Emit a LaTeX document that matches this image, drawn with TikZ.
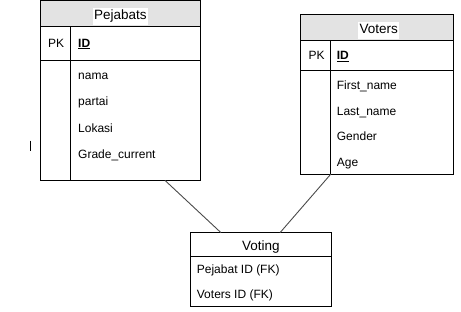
\documentclass[tikz,border=0pt]{standalone}
\usepackage{fontspec}
\setmainfont{Liberation Sans}
\usetikzlibrary{calc}
\definecolor{hdrgray}{HTML}{E3E3E3}
\definecolor{linkgray}{HTML}{4A4A4A}
\tikzset{
  tbl/.style={draw=black, line width=1pt, fill=white, inner sep=0pt, outer sep=0pt, anchor=north west},
  hdr/.style={fill=hdrgray},
  rule/.style={draw=black, line width=1pt},
  title/.style={font=\fontsize{13.5}{15}\selectfont, anchor=base, fill=white, inner xsep=1.5pt, inner ysep=2pt, text depth=3.5pt},
  plaintitle/.style={font=\fontsize{13.5}{15}\selectfont, anchor=base, inner sep=0pt},
  attr/.style={font=\fontsize{12}{14}\selectfont, anchor=base west, inner sep=0pt},
  keyattr/.style={attr, font=\fontsize{12}{14}\selectfont\bfseries},
  link/.style={draw=linkgray, line width=0.9pt},
}
\begin{document}
\begin{tikzpicture}[x=1pt, y=-1pt]
\useasboundingbox (0,0) rectangle (461,311);

% ---------- Pejabats ----------
\node[tbl, minimum width=159.8pt, minimum height=179.8pt] (pej) at (40.5,0.6) {};
\fill[hdr] ($(pej.north west)+(0.5,0.5)$) rectangle ($(pej.north east)+(-0.5,25.7)$);
\draw[rule] ($(pej.north west)+(0,25.7)$) -- ($(pej.north east)+(0,25.7)$);
\draw[rule] ($(pej.north west)+(0,59.7)$) -- ($(pej.north east)+(0,59.7)$);
\draw[rule] ($(pej.north west)+(29.8,25.7)$) -- ($(pej.south west)+(29.8,0)$);
\node[title] (pejT) at (120.4,19.3) {Pejabats};
\node[attr] (pejPK) at (48,47) {PK};
\node[keyattr] (pejID) at (78,47) {\underline{ID}};
\node[attr] (pej1) at (78,79.3) {nama};
\node[attr] (pej2) at (78,105.7) {partai};
\node[attr] (pej3) at (78,132.1) {Lokasi};
\node[attr] (pej4) at (78,158.5) {Grade\_current};

% ---------- Voters ----------
\node[tbl, minimum width=152.7pt, minimum height=160pt] (vot) at (300.3,14) {};
\fill[hdr] ($(vot.north west)+(0.5,0.5)$) rectangle ($(vot.north east)+(-0.5,26.3)$);
\draw[rule] ($(vot.north west)+(0,26.3)$) -- ($(vot.north east)+(0,26.3)$);
\draw[rule] ($(vot.north west)+(0,56)$) -- ($(vot.north east)+(0,56)$);
\draw[rule] ($(vot.north west)+(30.4,26.3)$) -- ($(vot.south west)+(30.4,0)$);
\node[title] (votT) at (378.8,33.3) {Voters};
\node[attr] (votPK) at (308.3,59.3) {PK};
\node[keyattr] (votID) at (336.7,59.3) {\underline{ID}};
\node[attr] (vot1) at (336.7,89.3) {First\_name};
\node[attr] (vot2) at (336.7,115) {Last\_name};
\node[attr] (vot3) at (336.7,140.7) {Gender};
\node[attr] (vot4) at (336.7,166.3) {Age};

% ---------- Voting ----------
\node[tbl, minimum width=141.7pt, minimum height=74pt] (vtg) at (190,232.7) {};
\draw[rule] ($(vtg.north west)+(0,23.3)$) -- ($(vtg.north east)+(0,23.3)$);
\node[plaintitle] (vtgT) at (260.8,250.7) {Voting};
\node[attr] (vtg1) at (196.7,273.3) {Pejabat ID (FK)};
\node[attr] (vtg2) at (196.7,298.3) {Voters ID (FK)};

% ---------- relationships ----------
\draw[link] ($(pej.south west)+(124.5,0)$) -- ($(vtg.north west)+(31,0)$);
\draw[link] ($(vot.south west)+(30.6,0)$) -- ($(vtg.north west)+(90,0)$);

% stray tick at the left edge
\draw[line width=1pt] (30.5,140.5) -- (30.5,150.5);
\end{tikzpicture}
\end{document}
